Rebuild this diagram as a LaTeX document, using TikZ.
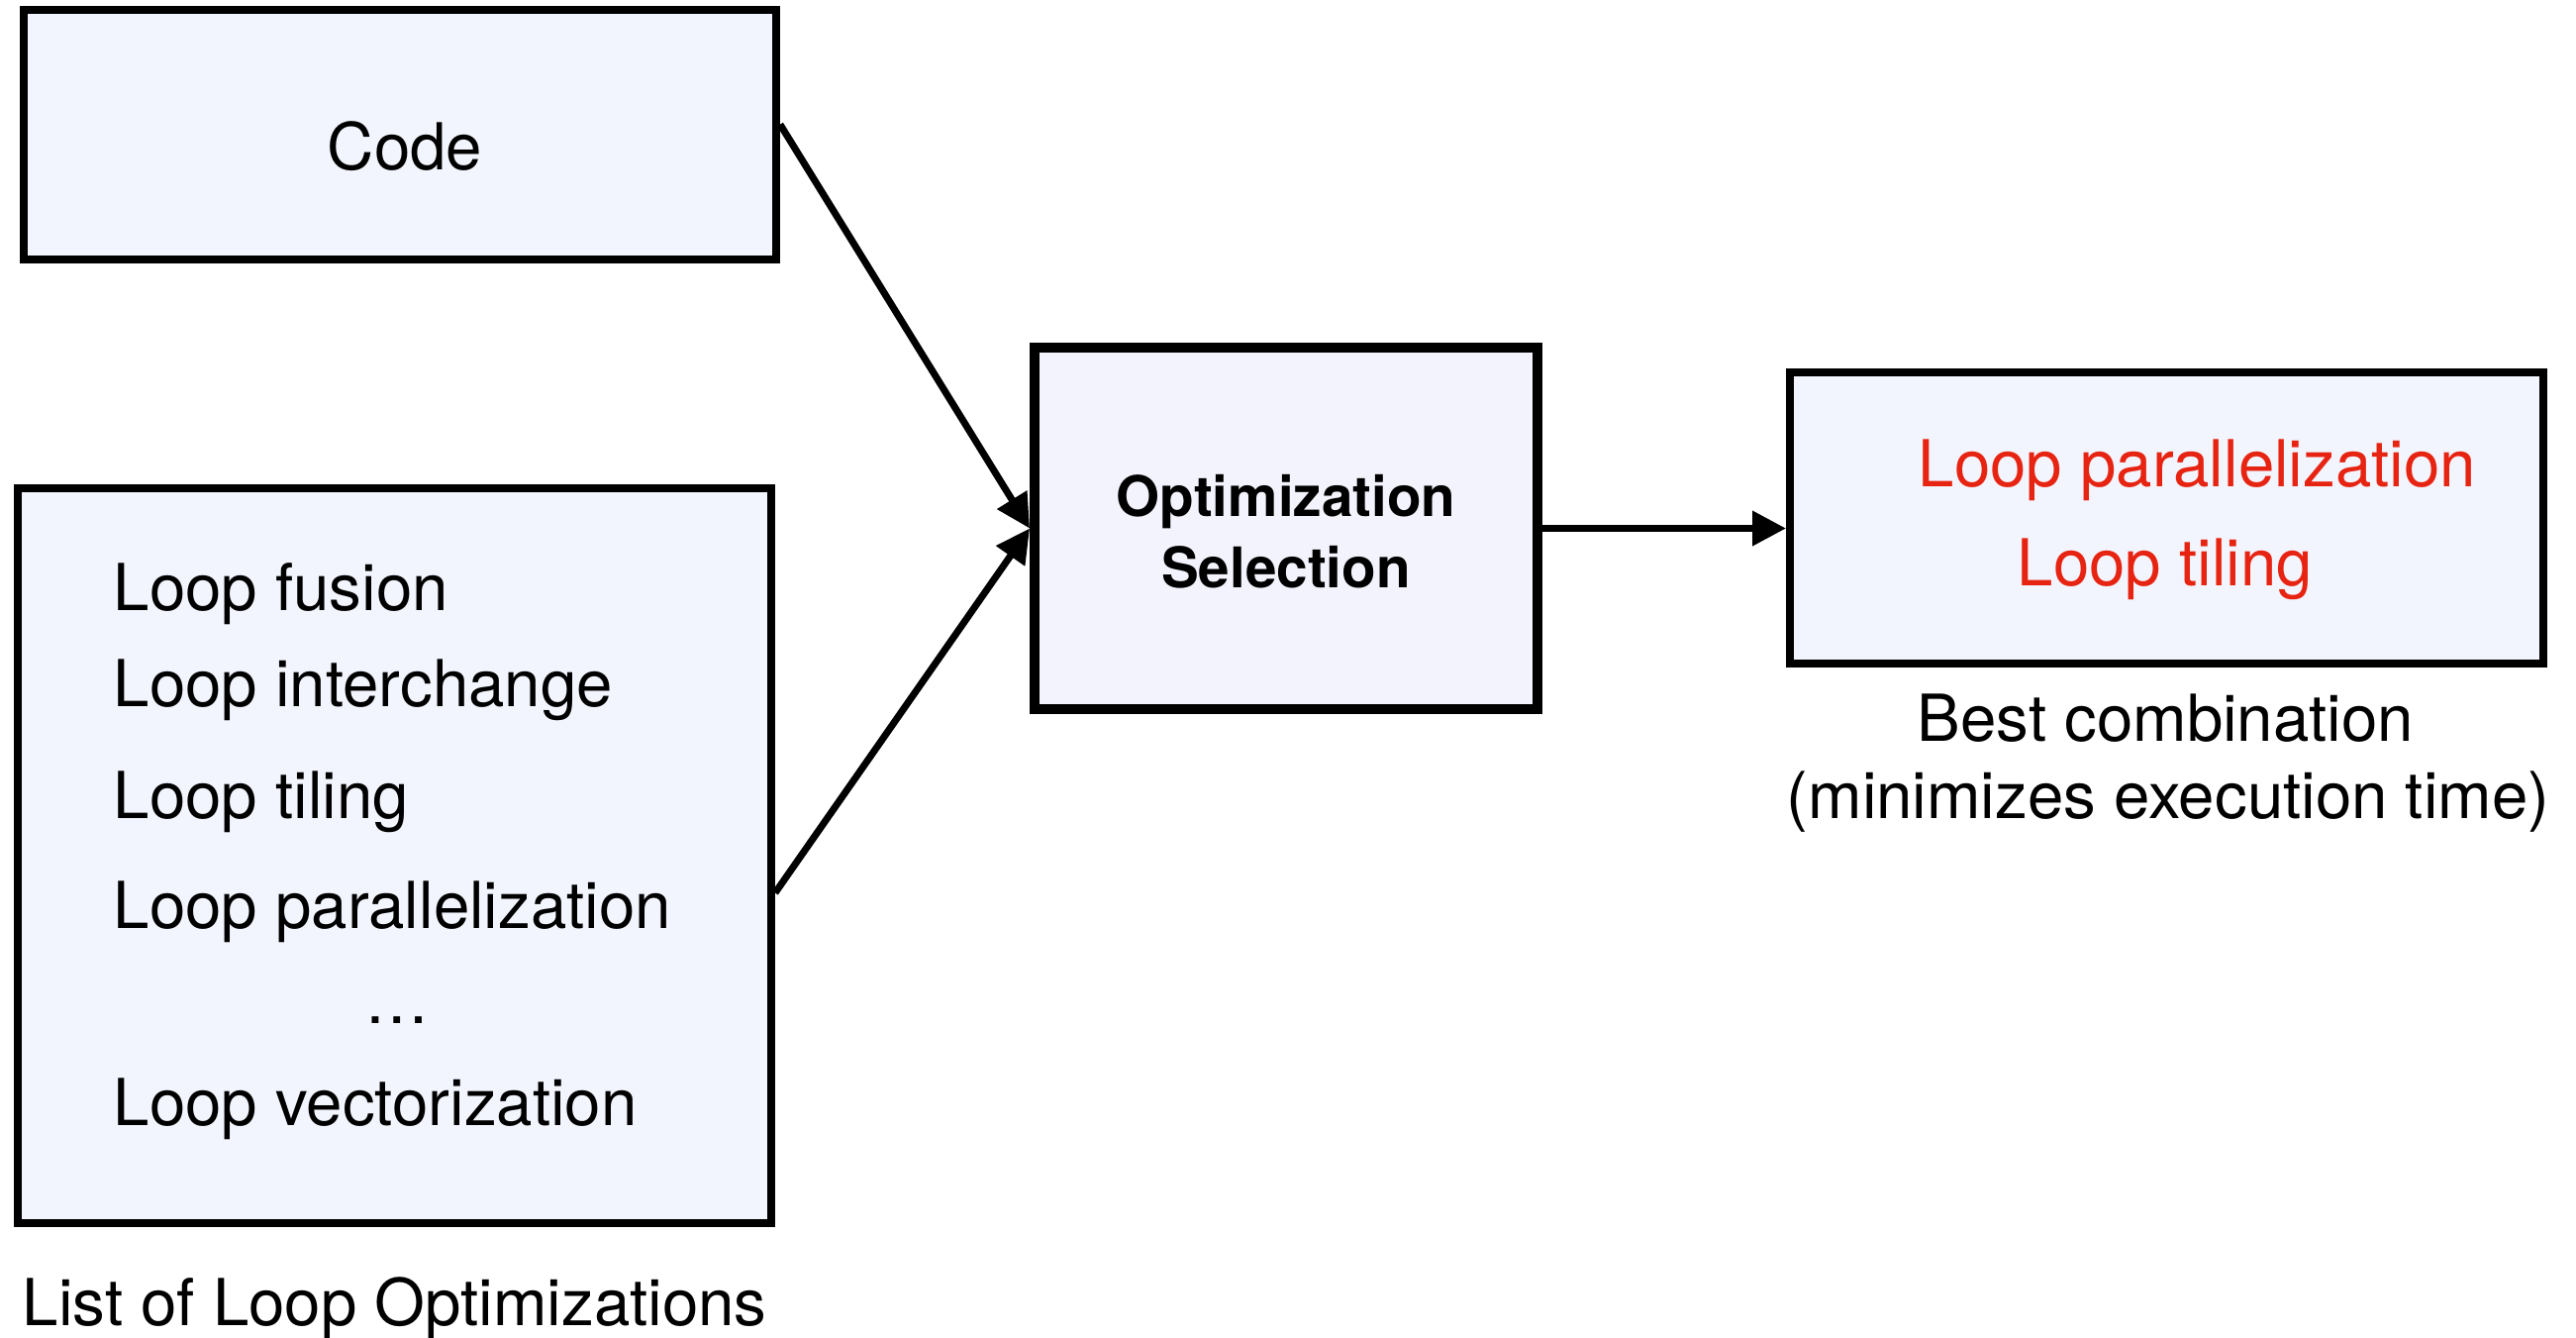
\documentclass[tikz,border=0pt]{standalone}
\usepackage{fontspec}
\setmainfont{TeX Gyre Heros}
\usetikzlibrary{arrows.meta,calc}

\definecolor{boxfill}{HTML}{F2F5FD}
\definecolor{selfill}{HTML}{F3F3FD}
\definecolor{pickred}{RGB}{231,36,18}

\tikzset{
  panel/.style={draw=black, line width=0.075cm, fill=boxfill, rectangle, inner sep=0pt},
  selpanel/.style={draw=black, line width=0.096cm, fill=selfill, rectangle, inner sep=0pt},
  txt/.style={inner sep=0pt, font=\fontsize{18.6pt}{22pt}\selectfont},
  boldtxt/.style={inner sep=0pt, font=\fontsize{16.1pt}{20pt}\selectfont\bfseries},
  redtxt/.style={txt, text=pickred},
  flow/.style={line width=0.07cm, -{Triangle[length=0.34cm,width=0.34cm]}}
}

\begin{document}
\begin{tikzpicture}[x=0.01cm, y=-0.01cm]
\useasboundingbox (0,0) rectangle (2602,1350);

% boxes
\node[panel, minimum width=7.60cm, minimum height=2.52cm] (code) at (404,136) {};
\node[panel, minimum width=7.61cm, minimum height=7.42cm] (list) at (398.5,864) {};
\node[selpanel, minimum width=5.08cm, minimum height=3.65cm] (sel) at (1299,533.5) {};
\node[panel, minimum width=7.61cm, minimum height=2.94cm] (best) at (2188.5,523) {};

% box texts
\node[txt, anchor=base] (codetxt) at (409,171) {Code};

\node[txt, anchor=base west] (l1) at (114,616) {Loop fusion};
\node[txt, anchor=base west] (l2) at (114,713) {Loop interchange};
\node[txt, anchor=base west] (l3) at (114,826) {Loop tiling};
\node[txt, anchor=base west] (l4) at (114,937) {Loop parallelization};
\node[txt, anchor=base] (l5) at (401,1033) {…};
\node[txt, anchor=base west] (l6) at (114,1136) {Loop vectorization};
\node[txt, anchor=base west] (listcap) at (22,1338) {List of Loop Optimizations};

\node[boldtxt, anchor=base] (sel1) at (1299,521) {Optimization};
\node[boldtxt, anchor=base] (sel2) at (1299,593) {Selection};

\node[redtxt, anchor=base west] (r1) at (1937,491) {Loop parallelization};
\node[redtxt, anchor=base west] (r2) at (2037,591) {Loop tiling};
\node[txt, anchor=base west] (bc1) at (1936,748) {Best combination};
\node[txt, anchor=base] (bc2) at (2190,826) {(minimizes execution time)};

% connectors
\draw[flow] ($(code.north east)!0.46!(code.south east)$) -- (sel.west);
\draw[flow] ($(list.north east)!0.55!(list.south east)$) -- (sel.west);
\draw[flow] (sel.east) -- (sel.east -| best.west);
\end{tikzpicture}
\end{document}
